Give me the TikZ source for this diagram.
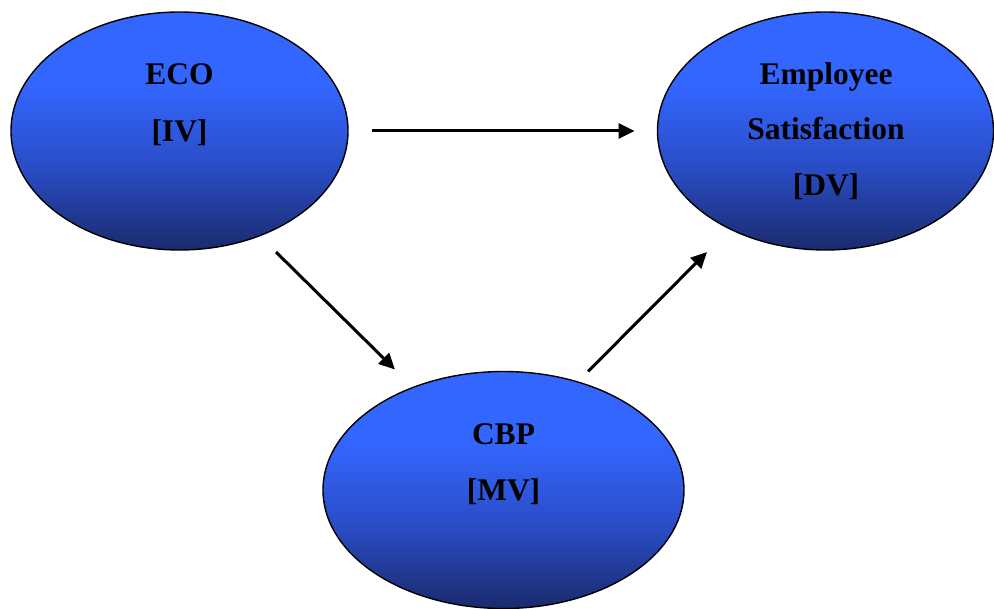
\documentclass[tikz,border=0pt]{standalone}
\usepackage{fontspec}
\setmainfont{Liberation Serif}
\usetikzlibrary{shapes.geometric,arrows.meta}

\definecolor{ovaltop}{HTML}{3366FF}
\definecolor{ovalmid}{HTML}{2A4CC4}
\definecolor{ovalbot}{HTML}{1A2A6C}

% light blue on top, fading to dark navy in the lower half
\pgfdeclareverticalshading{ovalfill}{100bp}{%
  color(0bp)=(ovalbot); color(25bp)=(ovalbot); color(42bp)=(ovalmid);
  color(60bp)=(ovaltop); color(75bp)=(ovaltop); color(100bp)=(ovaltop)}

\tikzset{
  oval/.style={ellipse, draw=black, line width=1.4bp, shading=ovalfill,
    inner sep=0pt, outer sep=0pt},
  lbl/.style={anchor=base, inner sep=0pt,
    font=\fontsize{31.5bp}{38bp}\selectfont\bfseries},
  conn/.style={line width=3bp, -{Triangle[length=16bp,width=15bp]}}
}

\begin{document}
\begin{tikzpicture}[x=1bp,y=-1bp]
  \useasboundingbox (0,0) rectangle (994,609);

  % the three variables
  \node[oval, minimum width=337bp, minimum height=238bp] (eco) at (179.5,131) {};
  \node[oval, minimum width=336bp, minimum height=238bp] (es)  at (825.5,131) {};
  \node[oval, minimum width=361bp, minimum height=237bp] (cbp) at (503.5,490) {};

  \node[lbl] (ecoA) at (179.5,85)  {ECO};
  \node[lbl] (ecoB) at (179.5,142) {[IV]};

  \node[lbl] (esA) at (826,85)  {Employee};
  \node[lbl] (esB) at (826,140) {Satisfaction};
  \node[lbl] (esC) at (826,196) {[DV]};

  \node[lbl] (cbpA) at (503.5,444) {CBP};
  \node[lbl] (cbpB) at (503.5,500) {[MV]};

  % paths between them
  \draw[conn, shorten <=24bp, shorten >=23bp] (eco.east) -- (es.west);
  \draw[conn] ([shift={(96.5,2)}]eco.south) -- ([shift={(-108.5,-2)}]cbp.north);
  \draw[conn] ([shift={(84.5,0)}]cbp.north) -- ([shift={(-118.5,2)}]es.south);
\end{tikzpicture}
\end{document}
